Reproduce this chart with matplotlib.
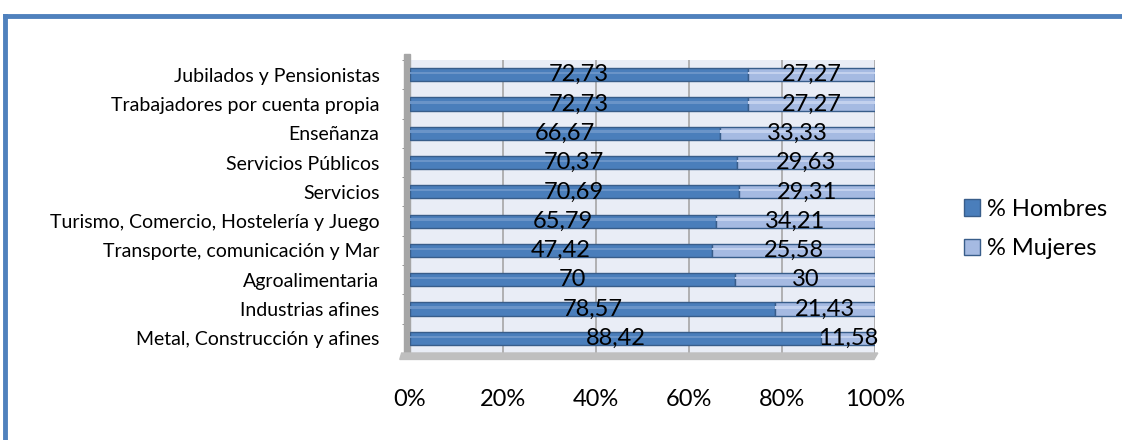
import matplotlib.pyplot as plt
import numpy as np
from matplotlib.patches import Rectangle, Polygon
from matplotlib.lines import Line2D

categorias = ['Metal, Construcción y afines', 'Industrias afines', 'Agroalimentaria',
              'Transporte, comunicación y Mar', 'Turismo, Comercio, Hostelería y Juego',
              'Servicios', 'Servicios Públicos', 'Enseñanza',
              'Trabajadores por cuenta propia', 'Jubilados y Pensionistas']
hombres = [88.42, 78.57, 70, 47.42, 65.79, 70.69, 70.37, 66.67, 72.73, 72.73]
mujeres = [11.58, 21.43, 30, 25.58, 34.21, 29.31, 29.63, 33.33, 27.27, 27.27]
etiquetas_h = ['88,42', '78,57', '70', '47,42', '65,79', '70,69', '70,37', '66,67', '72,73', '72,73']
etiquetas_m = ['11,58', '21,43', '30', '25,58', '34,21', '29,31', '29,63', '33,33', '27,27', '27,27']
ticks_x = [0, 20, 40, 60, 80, 100]

plt.rcParams['font.family'] = ['Lato', 'DejaVu Sans']

azul = '#4A7EBB'
azul_claro = '#A5BAE2'
borde = '#385D8A'

W, H = 1122, 440
fig = plt.figure(figsize=(W / 100, H / 100), dpi=100)

# marco azul del gráfico
fig.add_artist(Line2D([5 / W, 5 / W], [0, 1 - 16 / H], color='#4F81BD', lw=3.5))
fig.add_artist(Line2D([5 / W, 1], [1 - 16 / H, 1 - 16 / H], color='#4F81BD', lw=3.5))

left, right, top, bottom = 410, 875, 60, 353
ax = fig.add_axes([left / W, 1 - bottom / H, (right - left) / W, (bottom - top) / H])
ax.set_facecolor('#E9EDF6')

total = np.array(hombres) + np.array(mujeres)
ph = np.array(hombres) / total * 100
pm = np.array(mujeres) / total * 100
y = np.arange(len(categorias))

for xv in ticks_x:
    ax.axvline(xv, color='#A6A6A6', lw=1.2, zorder=1)

h = 0.45
ax.barh(y, ph, height=h, color=azul, edgecolor=borde, lw=1, zorder=3)
ax.barh(y, pm, left=ph, height=h, color=azul_claro, edgecolor=borde, lw=1, zorder=3)
# brillo del cilindro
ax.barh(y + h * 0.12, ph, height=h * 0.18, color='#6A94C8', lw=0, zorder=4)
ax.barh(y + h * 0.12, pm, left=ph, height=h * 0.18, color='#C3D1EE', lw=0, zorder=4)

for i in range(len(categorias)):
    ax.text(ph[i] / 2, y[i], etiquetas_h[i], ha='center', va='center', fontsize=17, zorder=5)
    ax.text(ph[i] + pm[i] / 2, y[i], etiquetas_m[i], ha='center', va='center', fontsize=17, zorder=5)

ax.set_xlim(0, 100)
ax.set_ylim(-0.5, len(categorias) - 0.5)
ax.set_xticks(ticks_x)
ax.set_xticklabels([f'{t}%' for t in ticks_x], fontsize=17)
ax.set_yticks(y)
ax.set_yticklabels(categorias, fontsize=14)
ax.set_yticks(np.arange(-0.5, len(categorias), 1), minor=True)
ax.tick_params(axis='y', which='major', length=0, pad=22)
ax.tick_params(axis='y', which='minor', length=6, color='#808080', pad=8)
ax.tick_params(axis='x', length=0, pad=26)
for s in ax.spines.values():
    s.set_visible(False)

# pared izquierda y suelo en gris (efecto 3D)
ax.add_patch(Rectangle((-1.2, -0.5), 1.2, 10.2, transform=ax.transData, color='#A6A6A6',
                       clip_on=False, zorder=2))
ax.add_patch(Polygon([(-1.8, -0.5), (100.6, -0.5), (99.8, -0.72), (-2.2, -0.72)],
                     closed=True, color='#BFBFBF', clip_on=False, zorder=2))

handles = [Rectangle((0, 0), 1, 1, facecolor=azul, edgecolor=borde),
           Rectangle((0, 0), 1, 1, facecolor=azul_claro, edgecolor=borde)]
fig.legend(handles, ['% Hombres', '% Mujeres'], loc='center left',
           bbox_to_anchor=(943 / W, 1 - 229 / H), frameon=False, fontsize=17,
           handlelength=0.68, handleheight=0.68, handletextpad=0.3, labelspacing=0.78)

fig.savefig('out.png', dpi=100, facecolor='white')
